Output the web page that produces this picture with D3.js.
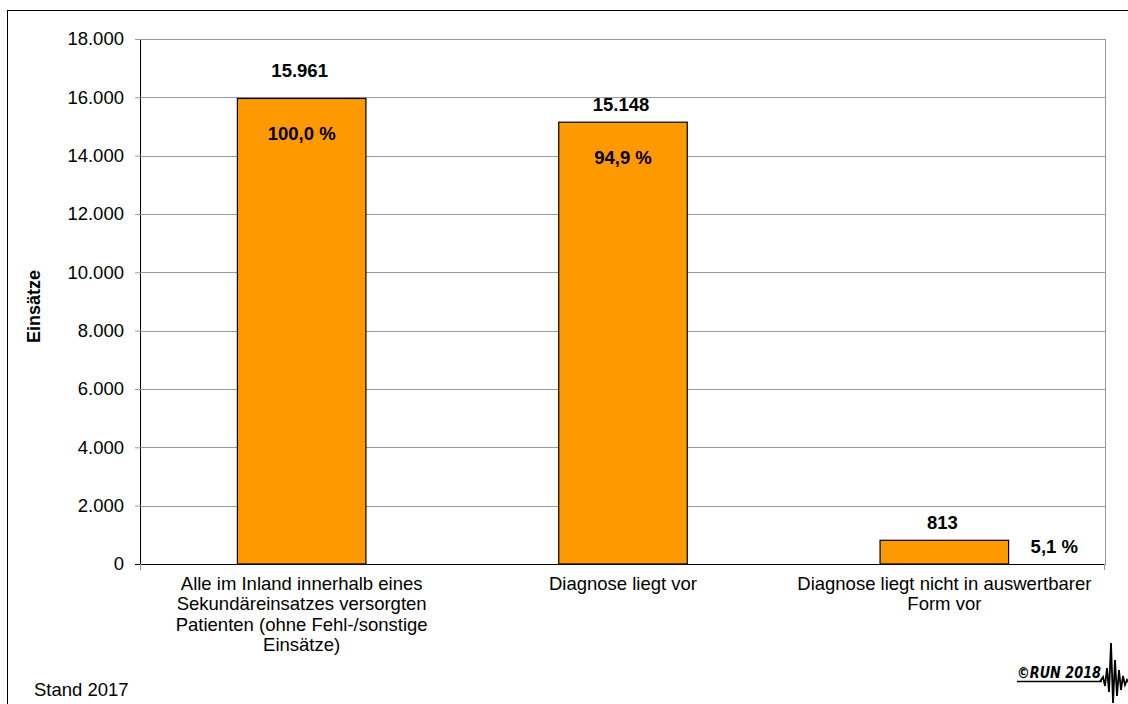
<!DOCTYPE html>
<html>
<head>
<meta charset="utf-8">
<script src="https://cdn.jsdelivr.net/npm/d3@7"></script>
<style>
  html, body { margin: 0; padding: 0; background: #fff; }
  svg { display: block; font-family: "Liberation Sans", Arial, Helvetica, sans-serif; }
</style>
</head>
<body>
<svg id="chart" width="1128" height="704"></svg>
<script>
// Einsätze nach Diagnosestatus, Stand 2017
const categories = [
  "Alle im Inland innerhalb eines Sekundäreinsatzes versorgten Patienten (ohne Fehl-/sonstige Einsätze)",
  "Diagnose liegt vor",
  "Diagnose liegt nicht in auswertbarer Form vor"
];
const counts = [15961, 15148, 813];
const shareLabels = ["100,0 %", "94,9 %", "5,1 %"];
const yTicks = [0, 2000, 4000, 6000, 8000, 10000, 12000, 14000, 16000, 18000];
const yTitle = "Einsätze";
const footnote = "Stand 2017";
const credit = "©RUN 2018";

const W = 1128, H = 704;
const margin = { left: 141, top: 39, right: W - 1105, bottom: H - 564 };
const plotW = W - margin.left - margin.right;
const plotH = H - margin.top - margin.bottom;
const FS = 18.5;

const svg = d3.select("#chart");

// outer frame
svg.append("rect")
  .attr("x", 7.5).attr("y", 10.5)
  .attr("width", W + 10).attr("height", H + 10)
  .attr("fill", "none").attr("stroke", "#000").attr("stroke-width", 1);

const g = svg.append("g").attr("transform", `translate(${margin.left},${margin.top})`);

const x = d3.scaleBand().domain(categories).range([0, plotW]).padding(0);
const y = d3.scaleLinear().domain([0, 18000]).range([plotH, 0]);
const fmt = d3.formatLocale({ decimal: ",", thousands: ".", grouping: [3], currency: ["", "€"] }).format(",d");

// horizontal grid lines
g.append("g").selectAll("line")
  .data(yTicks.filter(d => d > 0))
  .join("line")
  .attr("x1", 0).attr("x2", plotW)
  .attr("y1", d => Math.round(y(d)) + 0.5).attr("y2", d => Math.round(y(d)) + 0.5)
  .attr("stroke", "#999").attr("stroke-width", 1);

// right edge of plot area
g.append("line")
  .attr("x1", plotW + 0.5).attr("x2", plotW + 0.5)
  .attr("y1", 0).attr("y2", plotH)
  .attr("stroke", "#999").attr("stroke-width", 1);

// bars
const barW = x.bandwidth() * 0.4;
g.append("g").selectAll("rect")
  .data(categories)
  .join("rect")
  .attr("x", d => x(d) + (x.bandwidth() - barW) / 2)
  .attr("y", (d, i) => y(counts[i]))
  .attr("width", barW)
  .attr("height", (d, i) => plotH - y(counts[i]))
  .attr("fill", "#FF9900")
  .attr("stroke", "#000").attr("stroke-width", 1.2);

// y axis
const yAxis = g.append("g")
  .call(d3.axisLeft(y).tickValues(yTicks).tickFormat(fmt).tickSize(6).tickPadding(11));
yAxis.select(".domain").attr("stroke", "#000").attr("d", `M-0.5,0V${plotH}`);
yAxis.selectAll(".tick line").attr("stroke", "#999");
yAxis.selectAll("text")
  .attr("font-size", FS).attr("font-family", "Liberation Sans, Arial, sans-serif").attr("fill", "#000");

// x axis baseline
g.append("line")
  .attr("x1", -6).attr("x2", plotW + 0.5)
  .attr("y1", plotH + 0.5).attr("y2", plotH + 0.5)
  .attr("stroke", "#000").attr("stroke-width", 1);
g.append("g").selectAll("line")
  .data([0, plotW])
  .join("line")
  .attr("x1", d => d - 0.5).attr("x2", d => d - 0.5)
  .attr("y1", plotH).attr("y2", plotH + 6)
  .attr("stroke", "#999");

// category labels, wrapped
function wrapWords(text, maxW, measure) {
  const words = text.split(/\s+/);
  const lines = [];
  let line = "";
  words.forEach(w => {
    const test = line ? line + " " + w : w;
    if (line && measure(test) > maxW) { lines.push(line); line = w; }
    else line = test;
  });
  if (line) lines.push(line);
  return lines;
}
const measurer = svg.append("text").attr("font-size", FS).attr("visibility", "hidden");
const measure = s => { measurer.text(s); return measurer.node().getComputedTextLength(); };

const catG = g.append("g");
categories.forEach(c => {
  const lines = wrapWords(c, 312, measure);
  const t = catG.append("text")
    .attr("text-anchor", "middle")
    .attr("font-size", FS)
    .attr("fill", "#000");
  lines.forEach((ln, k) => {
    t.append("tspan")
      .attr("x", x(c) + x.bandwidth() / 2)
      .attr("y", plotH + 25.5 + k * 20.6)
      .text(ln);
  });
});
measurer.remove();

// value labels above the bars
const valueLift = [21.5, 11, 11];
g.append("g").selectAll("text")
  .data(categories)
  .join("text")
  .attr("x", d => x(d) + x.bandwidth() / 2 - 2)
  .attr("y", (d, i) => y(counts[i]) - valueLift[i])
  .attr("text-anchor", "middle")
  .attr("font-size", FS).attr("font-weight", "bold")
  .text((d, i) => fmt(counts[i]));

// share labels: inside tall bars, beside short ones
g.append("g").selectAll("text")
  .data(categories)
  .join("text")
  .each(function (d, i) {
    const t = d3.select(this);
    const top = y(counts[i]);
    const cx = x(d) + x.bandwidth() / 2;
    if (plotH - top > 60) {
      t.attr("x", cx).attr("y", top + 42).attr("text-anchor", "middle");
    } else {
      t.attr("x", cx + barW / 2 + 22).attr("y", (top + plotH) / 2 + 1).attr("text-anchor", "start");
    }
  })
  .attr("font-size", FS).attr("font-weight", "bold")
  .text((d, i) => shareLabels[i]);

// y axis title
svg.append("text")
  .attr("transform", `translate(40,${margin.top + plotH / 2 + 5}) rotate(-90)`)
  .attr("text-anchor", "middle")
  .attr("font-size", 18).attr("font-weight", "bold")
  .text(yTitle);

// footnote
svg.append("text")
  .attr("x", 34).attr("y", 696)
  .attr("font-size", FS)
  .text(footnote);

// credit mark with ECG trace
svg.append("text")
  .attr("x", 1017).attr("y", 678)
  .attr("font-size", 15.5).attr("font-weight", "bold").attr("font-style", "italic")
  .attr("font-family", "DejaVu Sans, sans-serif")
  .attr("textLength", 84).attr("lengthAdjust", "spacingAndGlyphs")
  .text(credit);
svg.append("line")
  .attr("x1", 1017).attr("x2", 1102).attr("y1", 681.5).attr("y2", 681.5)
  .attr("stroke", "#000").attr("stroke-width", 1.6);
const ecg = [[1100, 681.5], [1103, 677], [1105, 686], [1107, 668], [1109, 692], [1111, 643],
             [1113, 703], [1115, 660], [1117, 696], [1119, 670], [1121, 690], [1123, 676],
             [1125, 685], [1127, 680], [1128, 682]];
svg.append("path")
  .attr("d", d3.line()(ecg))
  .attr("fill", "none").attr("stroke", "#000").attr("stroke-width", 1.8);
</script>
</body>
</html>
